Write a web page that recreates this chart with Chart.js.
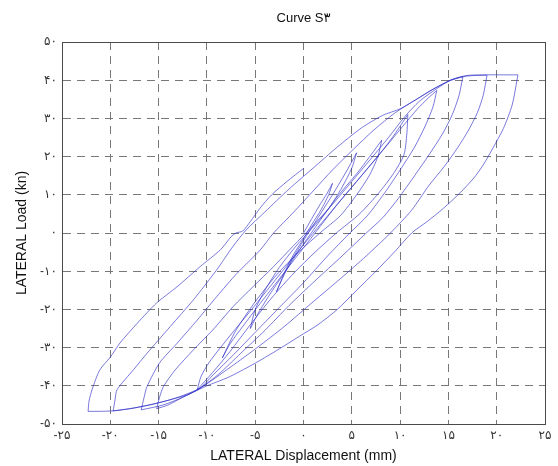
<!DOCTYPE html>
<html>
<head>
<meta charset="utf-8">
<title>Curve S3</title>
<script src="https://cdn.jsdelivr.net/npm/chart.js@4.4.1/dist/chart.umd.min.js"></script>
<style>
  html, body { margin: 0; padding: 0; background: #fff; }
  #wrap { width: 558px; height: 466px; }
</style>
</head>
<body>
<div id="wrap"><canvas id="curveChart" width="558" height="466"></canvas></div>
<script>
// tick values and their Persian labels
const xTicks = [-25, -20, -15, -10, -5, 0, 5, 10, 15, 20, 25];
const xTickLabels = ['-۲۵', '-۲۰', '-۱۵', '-۱۰', '-۵', '۰', '۵', '۱۰', '۱۵', '۲۰', '۲۵'];
const yTicks = [-50, -40, -30, -20, -10, 0, 10, 20, 30, 40, 50];
const yTickLabels = ['-۵۰', '-۴۰', '-۳۰', '-۲۰', '-۱۰', '۰', '۱۰', '۲۰', '۳۰', '۴۰', '۵۰'];

// load history, one branch per array: [displacement mm, load kN]
const up1 = [[0, 0], [0.8, 3.5], [1.6, 7], [2.4, 10.2], [3, 13]];
const down1 = [[3, 13], [2.6, 10], [1.8, 6], [0.8, 2], [0, -1.5], [-1, -5.5], [-1.9, -10], [-2.8, -15.4]];
const up2 = [[-2.8, -15.4], [-2.2, -12], [-1.2, -7], [0, -2], [1.5, 4], [3, 10], [4.3, 15.5], [5.5, 21]];
const down2 = [[5.5, 21], [5, 17], [4, 12], [2.5, 6], [0.8, 1], [-0.8, -3.5], [-2.5, -9], [-4, -15], [-5, -20], [-5.5, -25]];
const up3 = [[-5.5, -25], [-4.8, -21.5], [-3.6, -16.5], [-2, -10.5], [-0.3, -4], [1.5, 2.5], [3.5, 9.5], [5.5, 15.5], [7, 20.5], [8.1, 24.3]];
const down3 = [[8.1, 24.3], [7.7, 20], [6.8, 15], [5.5, 10], [3.8, 4.5], [1.7, 0], [-0.5, -5], [-2.8, -11], [-5, -18], [-7, -25.5], [-8.4, -32.7]];
const up4 = [[-8.4, -32.7], [-7.6, -29], [-6.3, -24.5], [-4.5, -18.5], [-2.5, -12], [-0.5, -5.5], [1.5, 1], [3.5, 7.5], [5.5, 13.5], [7.5, 19.5], [9.2, 25], [10.8, 31]];
const down4 = [[10.8, 31], [10.7, 26], [10.4, 20.5], [9.3, 15.5], [7.8, 10.5], [5.8, 5], [3.4, 0], [1.2, -5], [-1, -10.5], [-3.3, -17], [-5.5, -24], [-7.6, -31], [-9.4, -36.5], [-11, -41]];
const up5 = [[-11, -41], [-10.6, -37.5], [-9.8, -34], [-8.6, -30], [-7, -25], [-5.2, -19.5], [-3.3, -13.5], [-1.4, -7.5], [0.5, -1.5], [2.5, 4.5], [4.5, 10.5], [6.5, 16.5], [8.5, 22.5], [10.3, 28], [11.8, 32.5], [12.9, 35.3], [13.8, 37.3]];
const down5 = [[13.8, 37.3], [13.4, 33], [12.6, 28], [11.5, 22.5], [10, 16.5], [8.4, 10.5], [6.6, 4.5], [4.8, 0], [2.5, -6], [0, -13], [-2.5, -19.5], [-5, -26], [-7.3, -32], [-9.3, -37], [-10.7, -40.6], [-12.5, -43], [-14, -45], [-15.2, -46]];
const up6 = [[-15.2, -46], [-14.9, -43], [-14.5, -40.2], [-13.3, -35.9], [-11.4, -30.6], [-9.4, -25.4], [-7.3, -19.3], [-5.2, -14], [-3.1, -8.8], [-1.1, -3.5], [1, 2], [3, 7.5], [5, 13.5], [7, 19.5], [8.8, 25], [10.5, 30.5], [12, 34.5], [13.8, 37.8], [15.2, 40], [16.5, 41]];
const down6 = [[16.5, 41], [16.1, 36], [15.4, 31], [14.4, 26], [13, 20.5], [11.5, 15], [9.8, 9], [8.2, 4], [6.5, 0], [4, -6], [1.2, -12.5], [-1.5, -19], [-4, -25.5], [-6.5, -31.5], [-8.8, -37], [-10.7, -40.6], [-12.5, -43], [-14.5, -45], [-16.8, -46.3]];
const up7 = [[-16.8, -46.3], [-16.5, -43], [-16.2, -40.2], [-14.9, -34], [-13.1, -28.9], [-11, -22.8], [-9, -16.7], [-6.9, -10.6], [-4.5, -4.5], [-3.1, 0], [-1, 5.5], [1, 11], [3, 16.5], [5.2, 22], [7.3, 27], [9.5, 31.5], [11.7, 35], [13.5, 37.8], [15.3, 40], [17, 41.1], [19, 41.3]];
const down7 = [[19, 41.3], [18.6, 36], [18, 31.5], [17.1, 27], [16, 22.5], [14.6, 17.5], [13, 12.5], [11.2, 6], [9, 0], [6.5, -6], [3.8, -12], [1, -18], [-2, -24.5], [-4.8, -30], [-7.5, -35], [-10.7, -40.6], [-13, -43], [-15.5, -44.8], [-17.5, -45.8], [-19.7, -46.6]];
const up8 = [[-19.7, -46.6], [-19.5, -43.5], [-19.3, -41], [-17.6, -35.8], [-16.2, -31.5], [-13.8, -24.5], [-11.4, -17.5], [-9, -9.7], [-7.3, -3.5], [-5.9, 0.9], [-4, 5.5], [-1.5, 11.5], [1, 17], [3.5, 22.5], [6, 27.5], [8.2, 30.8], [10, 32.5], [11.7, 35], [13.4, 37.6], [15.2, 40], [16.8, 41.2], [18.5, 41.4], [20.3, 41.4], [22.2, 41.4]];
const down8 = [[22.2, 41.4], [21.6, 33.5], [20.7, 27.4], [19.6, 22.2], [18.6, 17.8], [17.6, 14.3], [16.2, 10.5], [14.5, 6.5], [12.8, 3], [11.2, 0], [9.4, -5], [7.5, -10], [5.5, -15], [3.5, -20], [1.5, -24], [-0.4, -27], [-2.8, -30.8], [-5.3, -34.5], [-7.8, -37.8], [-10, -40], [-12, -42.3], [-14, -43.8], [-16, -45], [-18, -46], [-20, -46.6], [-22.3, -46.7]];
const up9 = [[-22.3, -46.7], [-22.2, -44], [-21.9, -41.1], [-21.1, -35.9], [-20, -32.5], [-19, -28.8], [-17.2, -23.6], [-15.2, -18.3], [-13.1, -14.1], [-10.7, -8.8], [-8.6, -4.4], [-7.5, -1], [-7, 0], [-6.3, 0.5], [-5.5, 3], [-4.5, 6.5], [-3.3, 10], [-1.7, 13.5], [0, 16.9]];

const branches = [up1, down1, up2, down2, up3, down3, up4, down4, up5, down5, up6, down6, up7, down7, up8, down8, up9];

const FONT = "'Liberation Sans', Arial, 'DejaVu Sans', sans-serif";
Chart.defaults.font.family = FONT;

// solid box around the plot area
const framePlugin = {
    id: 'frame',
    afterDatasetsDraw(chart) {
        const { ctx, chartArea: a } = chart;
        ctx.save();
        ctx.strokeStyle = '#4a4a4a';
        ctx.lineWidth = 1;
        ctx.strokeRect(Math.round(a.left) + 0.5, Math.round(a.top) + 0.5,
            Math.round(a.right - a.left), Math.round(a.bottom - a.top));
        ctx.restore();
    }
};

const ctx = document.getElementById('curveChart').getContext('2d');
new Chart(ctx, {
    type: 'scatter',
    data: {
        datasets: branches.map(b => ({
            data: b.map(p => ({ x: p[0], y: p[1] })),
            showLine: true,
            borderColor: 'rgba(45, 45, 200, 0.8)',
            borderWidth: 0.8,
            pointRadius: 0,
            tension: 0.25,
            fill: false
        }))
    },
    options: {
        responsive: false,
        animation: false,
        layout: { padding: { left: 0, right: 13, top: 0, bottom: 0 } },
        plugins: {
            legend: { display: false },
            tooltip: { enabled: false },
            title: {
                display: true,
                text: 'Curve S۳',
                fullSize: false,
                color: '#111',
                font: { size: 13, weight: 'normal' },
                padding: { top: 11, bottom: 15.4 }
            }
        },
        scales: {
            x: {
                type: 'linear',
                min: -25,
                max: 25,
                afterFit(scale) { scale.height = 42; },
                afterBuildTicks(scale) { scale.ticks = xTicks.map(v => ({ value: v })); },
                ticks: {
                    callback: v => xTickLabels[xTicks.indexOf(v)],
                    color: '#333',
                    font: { size: 12 },
                    padding: 4,
                    maxRotation: 0,
                    autoSkip: false
                },
                grid: { color: '#777', lineWidth: 1, drawTicks: false },
                border: { display: true, color: '#4a4a4a', dash: [8, 6] },
                title: {
                    display: true,
                    text: 'LATERAL Displacement (mm)',
                    color: '#111',
                    font: { size: 14 },
                    padding: { top: 0, bottom: 1 }
                }
            },
            y: {
                type: 'linear',
                min: -50,
                max: 50,
                afterFit(scale) { scale.width = 62; },
                afterBuildTicks(scale) { scale.ticks = yTicks.map(v => ({ value: v })); },
                ticks: {
                    callback: v => yTickLabels[yTicks.indexOf(v)],
                    color: '#333',
                    font: { size: 12 },
                    padding: 5,
                    autoSkip: false
                },
                grid: { color: '#777', lineWidth: 1, drawTicks: false },
                border: { display: true, color: '#4a4a4a', dash: [8, 6] },
                title: {
                    display: true,
                    text: 'LATERAL Load (kn)',
                    color: '#111',
                    font: { size: 14 },
                    padding: { top: 14, bottom: 0 }
                }
            }
        }
    },
    plugins: [framePlugin]
});
</script>
</body>
</html>
